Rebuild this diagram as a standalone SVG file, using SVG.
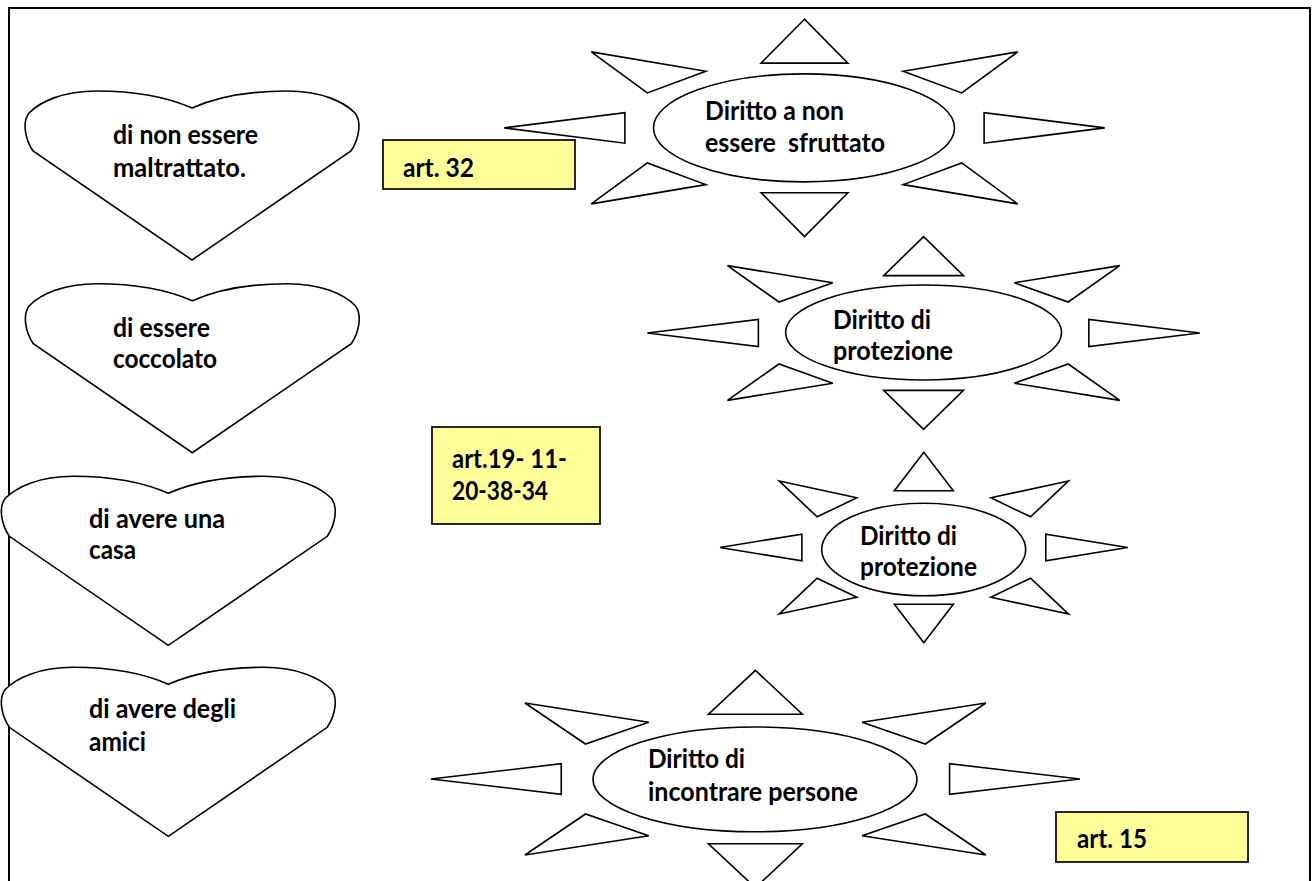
<svg xmlns="http://www.w3.org/2000/svg" xmlns:xlink="http://www.w3.org/1999/xlink" width="1314" height="881" viewBox="0 0 1314 881">
<style>
.frame{fill:none;stroke:#000;stroke-width:2}
.shape{fill:#fff;stroke:#000;stroke-width:1.6;stroke-linejoin:miter}
.ray{fill:#fff;stroke:#000;stroke-width:1.6;vector-effect:non-scaling-stroke}
.box{fill:#FFFF99;stroke:#111;stroke-width:1.8}
.t{font-family:"Lato","Open Sans","Liberation Sans",sans-serif;font-weight:700;font-size:26px;fill:#000}
</style>
<defs>
<path id="heart" d="M0,0 C-25,-11 -55,-17 -95,-17 C-130,-17 -152,-6 -163,5 C-170,14 -167,31 -159,43 L0,152 L159,43 C167,31 170,14 163,5 C152,-6 130,-17 95,-17 C55,-17 25,-11 0,0 Z"/>
<g id="rays">
<polygon class="ray" points="0,-108.7 -43.4,-64.8 43.4,-64.8"/>
<polygon class="ray" points="0,108.7 -43.4,64.8 43.4,64.8"/>
<polygon class="ray" points="-300.2,0 -179.6,-15.3 -179.6,15.3"/>
<polygon class="ray" points="300.2,0 179.6,-15.3 179.6,15.3"/>
<polygon class="ray" points="-213.2,-76 -98.7,-56.7 -157.2,-35"/>
<polygon class="ray" points="213.2,-76 98.7,-56.7 157.2,-35"/>
<polygon class="ray" points="-213.2,76 -98.7,56.7 -157.2,35"/>
<polygon class="ray" points="213.2,76 98.7,56.7 157.2,35"/>
</g>
</defs>
<rect width="1314" height="881" fill="#fff"/>
<path class="frame" d="M9,881 V8 H1310 V881"/>
<g id="connectors"/>

<g id="heart-1">
<use href="#heart" class="shape" transform="translate(192,108)"/>
<text class="t" x="113" y="144" textLength="145" lengthAdjust="spacingAndGlyphs">di non essere</text>
<text class="t" x="113" y="177" textLength="133" lengthAdjust="spacingAndGlyphs">maltrattato.</text>
</g>
<g id="heart-2">
<use href="#heart" class="shape" transform="translate(192.3,300.7)"/>
<text class="t" x="113" y="337" textLength="97" lengthAdjust="spacingAndGlyphs">di essere</text>
<text class="t" x="113" y="368" textLength="104" lengthAdjust="spacingAndGlyphs">coccolato</text>
</g>
<g id="heart-3">
<use href="#heart" class="shape" transform="translate(168.3,493.3)"/>
<text class="t" x="89" y="528" textLength="136" lengthAdjust="spacingAndGlyphs">di avere una</text>
<text class="t" x="89" y="559" textLength="47" lengthAdjust="spacingAndGlyphs">casa</text>
</g>
<g id="heart-4">
<use href="#heart" class="shape" transform="translate(168.3,684.3)"/>
<text class="t" x="89" y="718" textLength="147" lengthAdjust="spacingAndGlyphs">di avere degli</text>
<text class="t" x="89" y="751" textLength="57" lengthAdjust="spacingAndGlyphs">amici</text>
</g>

<g id="art-32">
<rect class="box" x="383" y="140" width="192" height="49"/>
<text class="t" x="403" y="177" textLength="71" lengthAdjust="spacingAndGlyphs">art. 32</text>
</g>
<g id="art-19">
<rect class="box" x="432" y="427" width="168" height="97"/>
<text class="t" x="452" y="468" textLength="115" lengthAdjust="spacingAndGlyphs">art.19- 11-</text>
<text class="t" x="452" y="500" textLength="96" lengthAdjust="spacingAndGlyphs">20-38-34</text>
</g>
<g id="art-15">
<rect class="box" x="1056" y="812" width="192" height="50"/>
<text class="t" x="1077" y="848" textLength="70" lengthAdjust="spacingAndGlyphs">art. 15</text>
</g>

<g id="sun-1">
<use href="#rays" transform="translate(804.5,127.9)"/>
<ellipse class="shape" cx="804" cy="127.9" rx="150.5" ry="54"/>
<text class="t" x="705" y="120" textLength="139" lengthAdjust="spacingAndGlyphs">Diritto a non</text>
<text class="t" x="705" y="152" textLength="180" lengthAdjust="spacingAndGlyphs" xml:space="preserve">essere  sfruttato</text>
</g>
<g id="sun-2">
<use href="#rays" transform="translate(923.6,333) scale(0.92,0.886)"/>
<ellipse class="shape" cx="923.6" cy="332.5" rx="138" ry="47.5"/>
<text class="t" x="833" y="329" textLength="98" lengthAdjust="spacingAndGlyphs">Diritto di</text>
<text class="t" x="833" y="360" textLength="120" lengthAdjust="spacingAndGlyphs">protezione</text>
</g>
<g id="sun-3">
<use href="#rays" transform="translate(923.85,547.5) scale(0.679,0.876)"/>
<ellipse class="shape" cx="923.7" cy="549.5" rx="102" ry="46.2"/>
<text class="t" x="860" y="545" textLength="97" lengthAdjust="spacingAndGlyphs">Diritto di</text>
<text class="t" x="860" y="576" textLength="117" lengthAdjust="spacingAndGlyphs">protezione</text>
</g>
<g id="sun-4">
<use href="#rays" transform="translate(755.4,779) scale(1.081,1)"/>
<ellipse class="shape" cx="755" cy="779.4" rx="162" ry="52.4"/>
<text class="t" x="648" y="768" textLength="97" lengthAdjust="spacingAndGlyphs">Diritto di</text>
<text class="t" x="648" y="801" textLength="210" lengthAdjust="spacingAndGlyphs">incontrare persone</text>
</g>
</svg>
